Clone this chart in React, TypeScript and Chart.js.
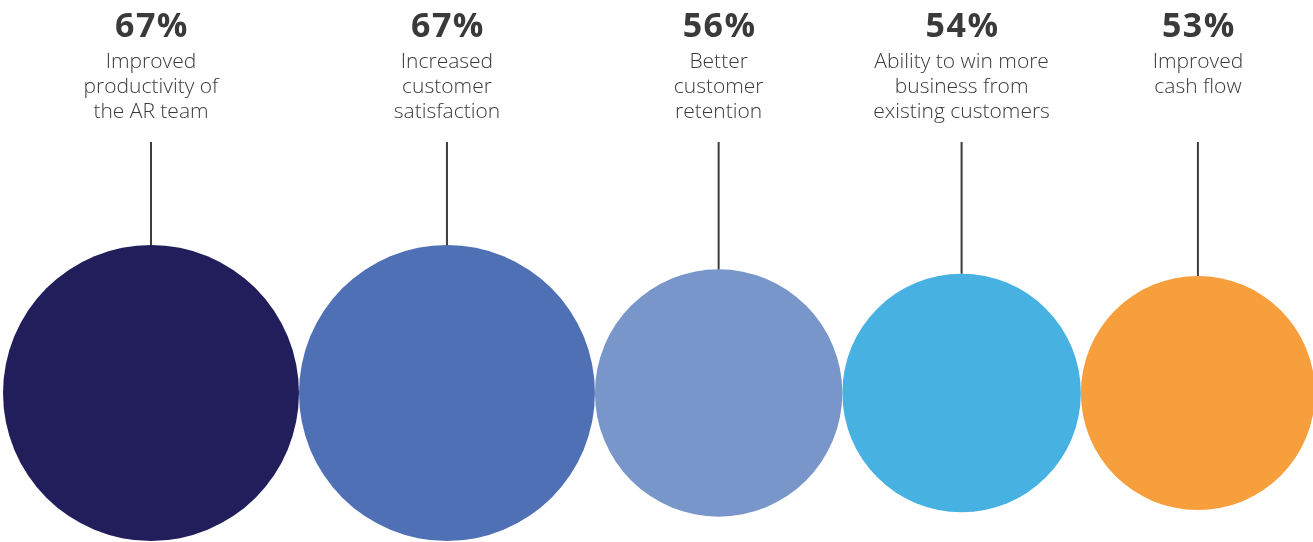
import React, { useEffect, useRef } from 'react';
import { Chart, registerables } from 'chart.js';

Chart.register(...registerables);

// ---- Data ----
const percentLabels = ['67%', '67%', '56%', '54%', '53%'];
const values = [67, 67, 56, 54, 53];
const categoryLines = [
  ['Improved', 'productivity of', 'the AR team'],
  ['Increased', 'customer', 'satisfaction'],
  ['Better', 'customer', 'retention'],
  ['Ability to win more', 'business from', 'existing customers'],
  ['Improved', 'cash flow'],
];
const colors = ['#221E5C', '#4F70B5', '#7896CA', '#47B2E2', '#F79E3D'];

// x positions: circles packed side by side, each radius proportional to its value
const packedX: number[] = [];
{
  let acc = 0;
  values.forEach((v) => {
    packedX.push(acc + v);
    acc += 2 * v;
  });
}

const X_MIN = -1.36;
const X_MAX = 593.1;

const W = 1313;
const H = 542;
const PX_PER_UNIT = W / (X_MAX - X_MIN);
const FONT = '"Open Sans", "DejaVu Sans", sans-serif';
const TEXT_COLOR = '#3a3a3a';
const LINE_COLOR = '#3c3c3c';

const calloutPlugin = {
  id: 'callouts',
  afterDatasetsDraw(chart: any) {
    const ctx = chart.ctx;
    const meta = chart.getDatasetMeta(0);
    ctx.save();
    meta.data.forEach((el: any, i: number) => {
      const x = el.x;
      const r = el.options.radius;
      const top = el.y - r;
      // connector line
      ctx.beginPath();
      ctx.strokeStyle = LINE_COLOR;
      ctx.lineWidth = 2;
      ctx.moveTo(x, 142);
      ctx.lineTo(x, top);
      ctx.stroke();
      // percentage
      ctx.fillStyle = '#3a3a3a';
      ctx.textAlign = 'center';
      ctx.textBaseline = 'alphabetic';
      ctx.font = `bold 34px ${FONT}`;
      try { (ctx as any).letterSpacing = '1.5px'; } catch (e) {}
      ctx.fillText(percentLabels[i], x + 1, 37);
      try { (ctx as any).letterSpacing = '0px'; } catch (e) {}
      // description
      ctx.fillStyle = TEXT_COLOR;
      ctx.font = `300 21px ${FONT}`;
      categoryLines[i].forEach((line, j) => {
        ctx.fillText(line, x, 68 + j * 25);
      });
    });
    ctx.restore();
  },
};

export default function App() {
  const ref = useRef<HTMLCanvasElement>(null);

  useEffect(() => {
    if (!ref.current) return;
    const chart = new Chart(ref.current, {
      type: 'bubble',
      data: {
        datasets: [
          {
            data: values.map((v, i) => ({ x: packedX[i], y: 0, r: v * PX_PER_UNIT })),
            backgroundColor: colors,
            borderWidth: 0,
            hoverBorderWidth: 0,
            clip: false as any,
          } as any,
        ],
      },
      options: {
        responsive: false,
        animation: false,
        layout: { autoPadding: false, padding: { top: 244, left: 0, right: 0, bottom: 0 } },
        plugins: {
          legend: { display: false },
          tooltip: { enabled: false },
        },
        events: [],
        scales: {
          x: { type: 'linear', min: X_MIN, max: X_MAX, display: false },
          y: { type: 'linear', min: -1, max: 1, display: false },
        },
      },
      plugins: [calloutPlugin],
    });
    return () => chart.destroy();
  }, []);

  return (
    <div style={{ position: 'fixed', left: 0, top: 0, width: W, height: H, background: '#fff' }}>
      <canvas ref={ref} width={W} height={H} style={{ width: W, height: H, display: 'block' }} />
    </div>
  );
}
